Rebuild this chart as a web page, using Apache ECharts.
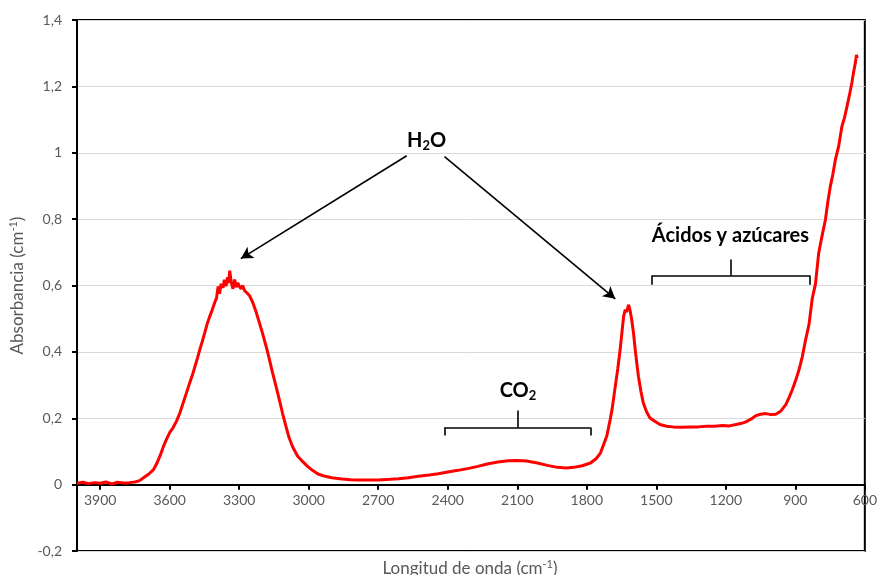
<!DOCTYPE html>
<html>
<head>
<meta charset="utf-8">
<title>Espectro de absorbancia</title>
<script src="https://cdn.jsdelivr.net/npm/echarts@6/dist/echarts.min.js"></script>
<style>
  html, body { margin: 0; padding: 0; background: #fff; }
  #chart { width: 880px; height: 575px; }
</style>
</head>
<body>
<div id="chart"></div>
<script>
// Wavenumber (cm-1) and absorbance of the measured spectrum
var wavenumbers = [
  4000, 3975, 3950, 3925, 3900, 3875, 3850, 3825, 3800, 3775, 3750, 3730, 3710, 3690, 3670,
  3655, 3641, 3627, 3613, 3599, 3585, 3570, 3555, 3541, 3527, 3513, 3502, 3491, 3480, 3470,
  3460, 3449, 3438, 3427, 3416, 3406, 3398, 3391, 3385, 3378, 3370, 3364, 3357, 3350, 3345,
  3341, 3335, 3327, 3320, 3313, 3306, 3299, 3292, 3285, 3277, 3270, 3256, 3241, 3227, 3213,
  3199, 3184, 3170, 3156, 3141, 3127, 3113, 3099, 3085, 3070, 3050, 3027, 3005, 2984, 2960,
  2929, 2900, 2856, 2820, 2784, 2740, 2699, 2650, 2613, 2570, 2527, 2480, 2441, 2400, 2356,
  2310, 2270, 2230, 2184, 2140, 2099, 2060, 2013, 1970, 1927, 1890, 1856, 1820, 1784, 1760,
  1741, 1725, 1713, 1699, 1691, 1677, 1666, 1656, 1648, 1641, 1634, 1628, 1620, 1613, 1606,
  1598, 1591, 1584, 1577, 1566, 1556, 1541, 1527, 1505, 1484, 1456, 1427, 1390, 1356, 1320,
  1284, 1250, 1213, 1185, 1156, 1135, 1113, 1090, 1070, 1050, 1027, 1005, 984, 962, 941,
  927, 913, 898, 884, 870, 856, 841, 827, 813, 799, 785, 770, 760, 749, 738,
  727, 713, 699, 688, 677, 666, 656, 648, 641, 636, 633
];
var absorbance = [
  0.004, 0.007, 0.003, 0.006, 0.004, 0.008, 0.002, 0.007, 0.005, 0.006, 0.008, 0.012, 0.022, 0.032, 0.045,
  0.065, 0.088, 0.115, 0.138, 0.158, 0.172, 0.192, 0.218, 0.248, 0.278, 0.308, 0.330, 0.356, 0.382, 0.407,
  0.430, 0.457, 0.485, 0.507, 0.528, 0.548, 0.562, 0.597, 0.575, 0.605, 0.593, 0.617, 0.598, 0.625, 0.608,
  0.645, 0.612, 0.590, 0.618, 0.595, 0.608, 0.597, 0.590, 0.600, 0.585, 0.588, 0.570, 0.548, 0.520, 0.488,
  0.455, 0.417, 0.378, 0.337, 0.296, 0.256, 0.215, 0.178, 0.142, 0.115, 0.088, 0.070, 0.055, 0.043, 0.032,
  0.025, 0.021, 0.017, 0.015, 0.014, 0.014, 0.014, 0.016, 0.018, 0.021, 0.025, 0.029, 0.033, 0.038, 0.043,
  0.049, 0.055, 0.062, 0.068, 0.072, 0.073, 0.071, 0.065, 0.058, 0.052, 0.050, 0.052, 0.057, 0.065, 0.078,
  0.095, 0.125, 0.148, 0.196, 0.226, 0.296, 0.350, 0.407, 0.460, 0.507, 0.527, 0.520, 0.542, 0.525, 0.497,
  0.455, 0.407, 0.365, 0.326, 0.280, 0.246, 0.218, 0.201, 0.190, 0.181, 0.176, 0.174, 0.173, 0.174, 0.174,
  0.176, 0.176, 0.178, 0.177, 0.181, 0.184, 0.189, 0.198, 0.208, 0.212, 0.214, 0.211, 0.212, 0.222, 0.241,
  0.262, 0.286, 0.315, 0.346, 0.385, 0.435, 0.482, 0.560, 0.605, 0.698, 0.748, 0.798, 0.850, 0.898, 0.935,
  0.979, 1.019, 1.079, 1.105, 1.139, 1.175, 1.210, 1.245, 1.270, 1.295, 1.285
];

// Axis tick positions
var xTicks = [3900, 3600, 3300, 3000, 2700, 2400, 2100, 1800, 1500, 1200, 900, 600];

// Annotation anchors, in data coordinates [wavenumber, absorbance]
var h2oLabel = [2491, 1.036];
var h2oArrows = [
  [[2577, 0.991], [3293, 0.681]],
  [[2414, 0.988], [1677, 0.560]]
];
var co2Label = [2097, 0.283];
var co2Bracket = { from: 2414, to: 1784, y: 0.172, drop: 0.148, stem: 0.223 };
var acidLabel = [1180, 0.752];
var acidBracket = { from: 1519, to: 837, y: 0.630, drop: 0.602, stem: 0.678 };

var FONT = 'Lato, "Open Sans", sans-serif';
var GRAY = '#595959';

var GRID_LEFT = 73, GRID_RIGHT = 13, GRID_TOP = 20, GRID_BOTTOM = 24;
var CHART_W = 880, CHART_H = 575;
var Y_MIN = -0.2, Y_MAX = 1.4;
// Shift the wavenumber axis up so that it sits on the zero line
var zeroOffset = -(CHART_H - GRID_TOP - GRID_BOTTOM) * (0 - Y_MIN) / (Y_MAX - Y_MIN);

function bracketSegments(b) {
  var mid = (b.from + b.to) / 2;
  return [
    [[b.from, b.y], [b.to, b.y]],
    [[b.from, b.y], [b.from, b.drop]],
    [[b.to, b.y], [b.to, b.drop]],
    [[mid, b.y], [mid, b.stem]]
  ];
}

var lineData = wavenumbers.map(function (w, i) { return [w, absorbance[i]]; });

var arrowLines = h2oArrows.map(function (a) {
  return [{ coord: a[0], symbol: 'none' }, { coord: a[1], symbol: 'arrow' }];
});
var plainLines = bracketSegments(co2Bracket).concat(bracketSegments(acidBracket)).map(function (seg) {
  return [{ coord: seg[0], symbol: 'none' }, { coord: seg[1], symbol: 'none' }];
});

var labelRich = {
  b: { fontFamily: FONT, fontWeight: 'bold', fontSize: 20, color: '#000', lineHeight: 24 },
  sub: { fontFamily: FONT, fontWeight: 'bold', fontSize: 13, color: '#000', lineHeight: 14, verticalAlign: 'bottom' }
};

var chart = echarts.init(document.getElementById('chart'), null, { renderer: 'canvas' });

chart.setOption({
  animation: false,
  backgroundColor: '#fff',
  grid: {
    left: GRID_LEFT, right: GRID_RIGHT, top: GRID_TOP, bottom: GRID_BOTTOM,
    show: true, borderColor: '#000', borderWidth: 2, backgroundColor: 'transparent'
  },
  xAxis: {
    type: 'value',
    min: 600,
    max: 4000,
    inverse: true,
    position: 'bottom',
    offset: zeroOffset,
    axisLine: { onZero: false, lineStyle: { color: '#000', width: 2 } },
    axisTick: { show: true, customValues: xTicks, length: 5, lineStyle: { color: '#000', width: 2 } },
    axisLabel: {
      show: true, customValues: xTicks, color: GRAY, fontFamily: FONT, fontSize: 14, margin: 9,
      showMinLabel: true, showMaxLabel: true,
      formatter: function (v) { return String(v); }
    },
    splitLine: { show: false }
  },
  yAxis: {
    type: 'value',
    min: Y_MIN,
    max: Y_MAX,
    interval: 0.2,
    name: '{a|Absorbancia (cm}{s|-1}{a|)}',
    nameLocation: 'middle',
    nameRotate: 90,
    nameGap: 48,
    nameTextStyle: {
      rich: {
        a: { fontFamily: FONT, fontSize: 17, color: GRAY, lineHeight: 20 },
        s: { fontFamily: FONT, fontSize: 11, color: GRAY, lineHeight: 11, verticalAlign: 'top' }
      }
    },
    axisLine: { show: true, lineStyle: { color: '#000', width: 2 } },
    axisTick: { show: true, length: 5, lineStyle: { color: '#000', width: 2 } },
    axisLabel: {
      color: GRAY, fontFamily: FONT, fontSize: 14, margin: 15,
      formatter: function (v) {
        var r = Math.round(v * 10) / 10;
        return String(r).replace('.', ',');
      }
    },
    splitLine: { show: true, lineStyle: { color: '#d9d9d9', width: 1 } }
  },
  series: [
    {
      type: 'line',
      data: lineData,
      showSymbol: false,
      symbol: 'none',
      smooth: false,
      lineStyle: { color: '#ff0000', width: 3 },
      z: 3
    },
    {
      // Arrows and brackets of the annotations
      type: 'line',
      data: [],
      silent: true,
      markLine: {
        silent: true,
        animation: false,
        symbolSize: [10, 12],
        label: { show: false },
        lineStyle: { color: '#000', width: 1.6, type: 'solid' },
        data: arrowLines.concat(plainLines)
      },
      markPoint: {
        silent: true,
        animation: false,
        symbol: 'rect',
        symbolSize: [1, 1],
        itemStyle: { color: 'rgba(0,0,0,0)' },
        label: { show: true, position: 'inside', rich: labelRich },
        data: [
          { coord: h2oLabel, label: { formatter: '{b|H}{sub|2}{b|O}' } },
          { coord: co2Label, label: { formatter: '{b|CO}{sub|2}' } },
          { coord: acidLabel, label: { formatter: '{b|Ácidos y azúcares}' } }
        ]
      }
    }
  ],
  graphic: [
    {
      type: 'text',
      x: (GRID_LEFT + CHART_W - GRID_RIGHT) / 2,
      y: 569,
      style: {
        text: '{a|Longitud de onda (cm}{s|-1}{a|)}',
        align: 'center',
        verticalAlign: 'middle',
        rich: {
          a: { fontFamily: FONT, fontSize: 17, fill: GRAY, lineHeight: 20 },
          s: { fontFamily: FONT, fontSize: 11, fill: GRAY, lineHeight: 11, verticalAlign: 'top' }
        }
      }
    }
  ]
});
</script>
</body>
</html>
